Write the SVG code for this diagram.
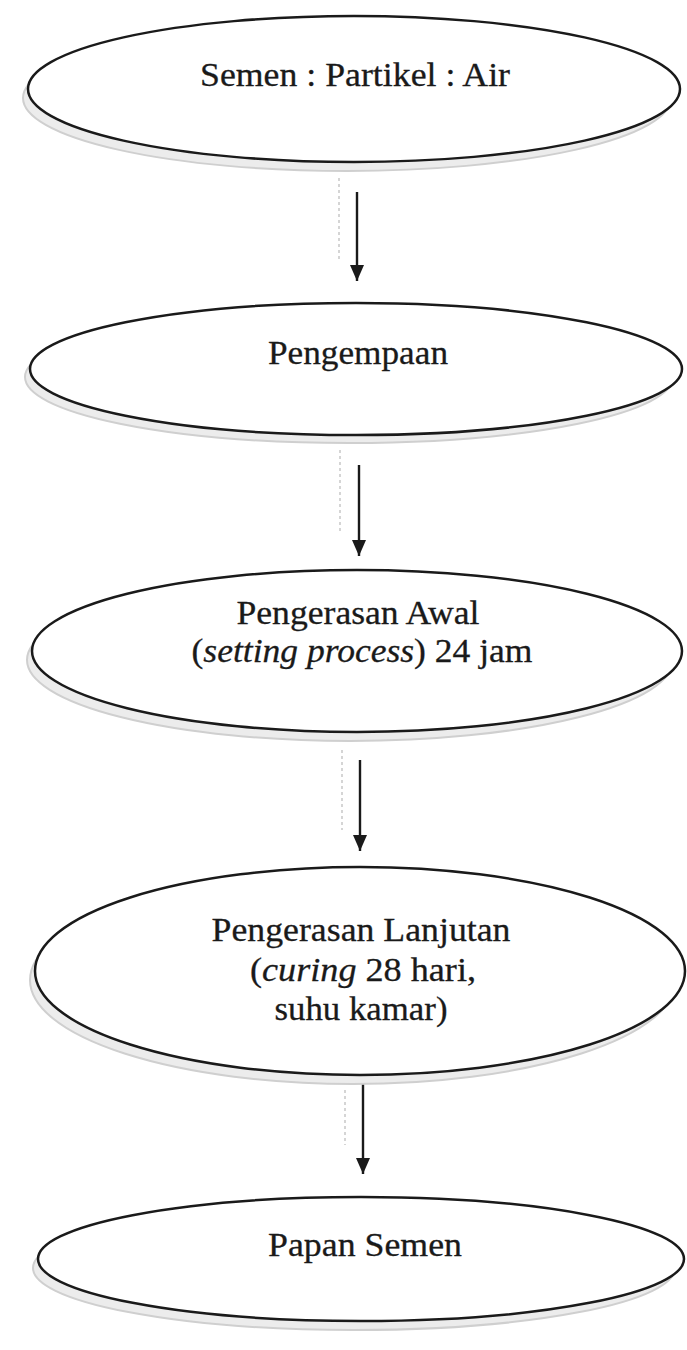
<svg xmlns="http://www.w3.org/2000/svg" width="687" height="1350" viewBox="0 0 687 1350">
<style>
.shadow{fill:#ececec;stroke:#cfcfcf;stroke-width:2}
.node{fill:#ffffff;stroke:#1a1a1a;stroke-width:2.5}
.lbl{font-family:'Liberation Serif','Times New Roman',Times,Tinos,serif;font-size:34px;fill:#1a1a1a;stroke:#1a1a1a;stroke-width:0.3;text-anchor:middle}
.it{font-style:italic}
.edge{stroke:#1a1a1a;stroke-width:2.4;fill:none}
.ghost{stroke:#c8c8c8;stroke-width:1.5;stroke-dasharray:3 3;fill:none}
</style>
<defs>
<marker id="ah2" markerWidth="16" markerHeight="14" refX="16" refY="7" orient="auto" markerUnits="userSpaceOnUse" viewBox="0 0 16 14">
<path d="M0,0 L16,7 L0,14 Z" fill="#1a1a1a"/>
</marker>
</defs>
<rect width="687" height="1350" fill="#ffffff"/>
<g id="connectors">
<line class="ghost" x1="339" y1="178" x2="339" y2="262"/>
<line class="edge" x1="357" y1="192" x2="357" y2="281" marker-end="url(#ah2)"/>
<line class="ghost" x1="340" y1="450" x2="340" y2="532"/>
<line class="edge" x1="359" y1="465" x2="359" y2="556" marker-end="url(#ah2)"/>
<line class="ghost" x1="342" y1="750" x2="342" y2="830"/>
<line class="edge" x1="360" y1="760" x2="360" y2="851" marker-end="url(#ah2)"/>
<line class="ghost" x1="345" y1="1090" x2="345" y2="1145"/>
<line class="edge" x1="363" y1="1078" x2="363" y2="1174" marker-end="url(#ah2)"/>
</g>
<g id="n1">
<ellipse class="shadow" cx="347" cy="98" rx="324" ry="73"/>
<ellipse class="node" cx="354" cy="89" rx="326" ry="73"/>
<text class="lbl" x="355" y="86" textLength="310" lengthAdjust="spacingAndGlyphs">Semen : Partikel : Air</text>
</g>
<g id="n2">
<ellipse class="shadow" cx="349" cy="377" rx="324" ry="66"/>
<ellipse class="node" cx="356" cy="369" rx="326" ry="66"/>
<text class="lbl" x="358" y="364" textLength="180" lengthAdjust="spacingAndGlyphs">Pengempaan</text>
</g>
<g id="n3">
<ellipse class="shadow" cx="350" cy="660" rx="323" ry="81"/>
<ellipse class="node" cx="357" cy="651" rx="325" ry="81"/>
<text class="lbl" x="358" y="624" textLength="243" lengthAdjust="spacingAndGlyphs">Pengerasan Awal</text>
<text class="lbl" x="362" y="662" textLength="341" lengthAdjust="spacingAndGlyphs">(<tspan class="it">setting process</tspan>) 24 jam</text>
</g>
<g id="n4">
<ellipse class="shadow" cx="353" cy="980" rx="323" ry="104"/>
<ellipse class="node" cx="360" cy="971" rx="325" ry="104"/>
<text class="lbl" x="361" y="941" textLength="299" lengthAdjust="spacingAndGlyphs">Pengerasan Lanjutan</text>
<text class="lbl" x="363" y="981" textLength="226" lengthAdjust="spacingAndGlyphs">(<tspan class="it">curing</tspan> 28 hari,</text>
<text class="lbl" x="361" y="1020" textLength="173" lengthAdjust="spacingAndGlyphs">suhu kamar)</text>
</g>
<g id="n5">
<ellipse class="shadow" cx="354" cy="1268" rx="321" ry="62"/>
<ellipse class="node" cx="361" cy="1259" rx="323" ry="62"/>
<text class="lbl" x="365" y="1256" textLength="194" lengthAdjust="spacingAndGlyphs">Papan Semen</text>
</g>
</svg>
